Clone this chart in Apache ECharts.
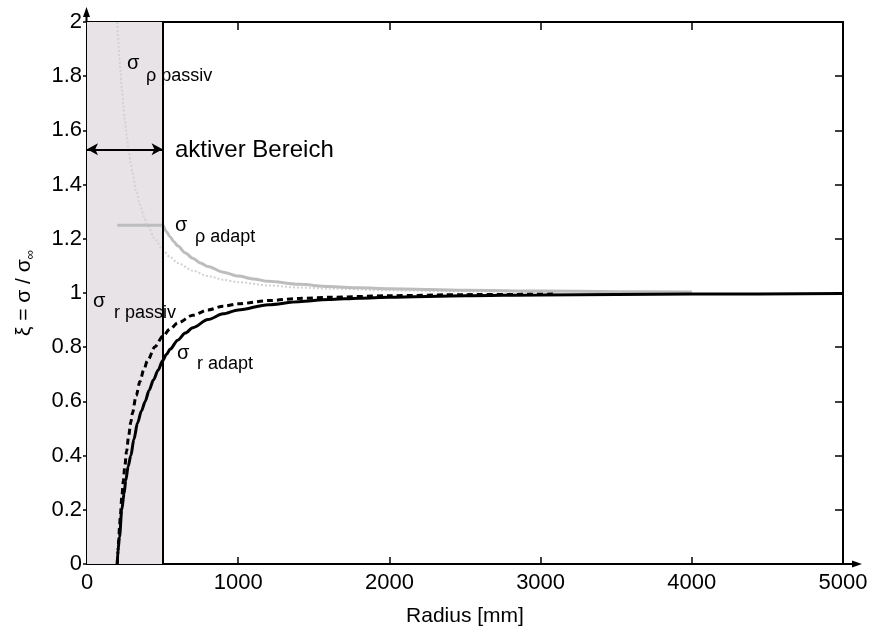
<!DOCTYPE html>
<html>
<head>
<meta charset="utf-8">
<script src="https://cdn.jsdelivr.net/npm/echarts@6/dist/echarts.min.js"></script>
<style>html,body{margin:0;padding:0;background:#fff}#c{width:869px;height:628px}</style>
</head>
<body>
<div id="c"></div>
<script>
// ---- data ----
const rPassiv = [200,205,210,215,220,230,240,250,262,275,290,300,325,350,375,400,450,500,550,600,700,800,900,1000,1200,1400,1600,2000,2500,3100];
const sigmaRPassiv = [0,0.048,0.093,0.135,0.174,0.244,0.306,0.36,0.417,0.471,0.524,0.556,0.621,0.673,0.716,0.75,0.802,0.84,0.868,0.889,0.918,0.9375,0.951,0.96,0.972,0.98,0.984,0.99,0.994,0.996];
const sigmaRhoPassiv = [2,1.952,1.907,1.865,1.826,1.756,1.694,1.64,1.583,1.529,1.476,1.444,1.379,1.327,1.284,1.25,1.198,1.16,1.132,1.111,1.082,1.0625,1.049,1.04,1.028,1.02,1.016,1.01,1.006,1.004];

const rRhoAdapt = [200,500,525,550,575,600,650,700,750,800,900,1000,1100,1200,1400,1600,1800,2000,2500,3000,3500,4000];
const sigmaRhoAdapt = [1.25,1.25,1.227,1.207,1.189,1.174,1.148,1.128,1.111,1.098,1.077,1.0625,1.052,1.043,1.032,1.024,1.019,1.016,1.01,1.007,1.005,1.004];

const rRAdapt = [200,205,215,230,245,257,272,290,310,334,360,385,410,440,470,500,525,550,600,650,700,800,900,1000,1200,1400,1600,1800,2000,2500,3000,4000,5000];
const sigmaRAdapt = [0,0.05,0.1,0.2,0.26,0.31,0.36,0.4,0.46,0.52,0.565,0.6,0.64,0.68,0.715,0.75,0.773,0.793,0.826,0.852,0.872,0.902,0.923,0.9375,0.957,0.968,0.976,0.981,0.984,0.99,0.993,0.996,0.998];

const activeRange = [0, 500];
const arrowLevel = 1.53;
const xTicks = [0,1000,2000,3000,4000,5000];
const yTicks = [0,0.2,0.4,0.6,0.8,1,1.2,1.4,1.6,1.8,2];

// ---- chart ----
const FONT = 'Liberation Sans, Arial, sans-serif';
const pairs = (xs, ys) => xs.map((x, i) => [x, ys[i]]);
const chart = echarts.init(document.getElementById('c'), null, {renderer: 'canvas'});

const txt = (x, y, s, size) => ({
  type: 'text', left: x, top: y - size / 2 - 1, z: 100,
  style: {text: s, fill: '#000', font: size + 'px ' + FONT}
});

chart.setOption({
  animation: false,
  backgroundColor: '#fff',
  grid: {left: 87, right: 26, top: 22, bottom: 64, containLabel: false, outerBoundsMode: 'none'},
  xAxis: [{
    type: 'value', min: xTicks[0], max: xTicks[xTicks.length - 1], interval: 1000,
    axisLine: {onZero: false, lineStyle: {color: '#000', width: 2}},
    axisTick: {inside: true, length: 7, lineStyle: {color: '#000', width: 1.5}},
    axisLabel: {color: '#000', fontSize: 22, fontFamily: FONT, margin: 8,
      formatter: v => String(v)},
    splitLine: {show: false},
    name: 'Radius [mm]', nameLocation: 'middle', nameGap: 42,
    nameTextStyle: {color: '#000', fontSize: 21, fontFamily: FONT}
  }, {
    type: 'value', position: 'top', min: 0, max: 5000, interval: 1000,
    axisLine: {onZero: false, lineStyle: {color: '#000', width: 2}},
    axisTick: {inside: true, length: 8, lineStyle: {color: '#000', width: 1.5}},
    axisLabel: {show: false}, splitLine: {show: false}
  }],
  yAxis: [{
    type: 'value', min: yTicks[0], max: yTicks[yTicks.length - 1], interval: 0.2,
    axisLine: {onZero: false, lineStyle: {color: '#000', width: 2}},
    axisTick: {inside: false, length: 4, lineStyle: {color: '#000', width: 1.5}},
    axisLabel: {color: '#000', fontSize: 22, fontFamily: FONT, margin: 5,
      formatter: v => String(+v.toFixed(1))},
    splitLine: {show: false},
    name: '{a|ξ = σ / σ}{b|∞}', nameLocation: 'middle', nameGap: 50,
    nameTextStyle: {color: '#000', fontFamily: FONT,
      rich: {a: {fontSize: 21, fontFamily: FONT, color: '#000'},
             b: {fontSize: 13, fontFamily: FONT, color: '#000', padding: [12, 0, 0, 0]}}}
  }, {
    type: 'value', position: 'right', min: 0, max: 2, interval: 0.2,
    axisLine: {onZero: false, lineStyle: {color: '#000', width: 2}},
    axisTick: {inside: true, length: 8, lineStyle: {color: '#000', width: 1.5}},
    axisLabel: {show: false}, splitLine: {show: false}
  }],
  series: [{
    name: 'sigma rho passiv', type: 'line', showSymbol: false, z: 3,
    smooth: 0.3, smoothMonotone: 'x',
    data: pairs(rPassiv, sigmaRhoPassiv),
    lineStyle: {color: '#d2d2d2', width: 2, type: [2, 2]},
    markArea: {silent: true, itemStyle: {color: '#e7e3e7'},
      data: [[{xAxis: activeRange[0]}, {xAxis: activeRange[1]}]]},
    markLine: {silent: true, symbol: 'none', label: {show: false},
      lineStyle: {color: '#000', width: 2, type: 'solid'},
      data: [{xAxis: activeRange[1]}]}
  }, {
    name: 'sigma rho adapt', type: 'line', showSymbol: false, z: 4,
    smooth: 0.3, smoothMonotone: 'x',
    data: pairs(rRhoAdapt, sigmaRhoAdapt),
    lineStyle: {color: '#bdbdbd', width: 3},
    markLine: {silent: true, symbol: ['arrow', 'arrow'], symbolSize: [9, 11], label: {show: false},
      lineStyle: {color: '#000', width: 2, type: 'solid'},
      data: [[{coord: [activeRange[0], arrowLevel]}, {coord: [activeRange[1], arrowLevel]}]]}
  }, {
    name: 'sigma r passiv', type: 'line', showSymbol: false, z: 5,
    smooth: 0.3, smoothMonotone: 'x',
    data: pairs(rPassiv, sigmaRPassiv),
    lineStyle: {color: '#000', width: 3, type: [6, 4]}
  }, {
    name: 'sigma r adapt', type: 'line', showSymbol: false, z: 6,
    smooth: 0.3, smoothMonotone: 'x',
    data: pairs(rRAdapt, sigmaRAdapt),
    lineStyle: {color: '#000', width: 3}
  }],
  graphic: [
    // axis arrows
    {type: 'line', z: 100, shape: {x1: 86.5, y1: 22, x2: 86.5, y2: 14}, style: {stroke: '#000', lineWidth: 2}},
    {type: 'polygon', z: 100, shape: {points: [[86.5, 7], [83, 17], [90, 17]]}, style: {fill: '#000'}},
    {type: 'line', z: 100, shape: {x1: 843, y1: 564, x2: 854, y2: 564}, style: {stroke: '#000', lineWidth: 2}},
    {type: 'polygon', z: 100, shape: {points: [[862, 564], [852, 560.5], [852, 567.5]]}, style: {fill: '#000'}},
    // annotations
    txt(127, 64, 'σ', 20), txt(146, 77, 'ρ passiv', 18),
    txt(175, 151, 'aktiver Bereich', 24),
    txt(175, 226, 'σ', 20), txt(195, 238, 'ρ adapt', 18),
    txt(93, 302, 'σ', 20), txt(114, 314, 'r passiv', 18),
    txt(177, 354, 'σ', 20), txt(197, 365, 'r adapt', 18)
  ]
});
</script>
</body>
</html>
